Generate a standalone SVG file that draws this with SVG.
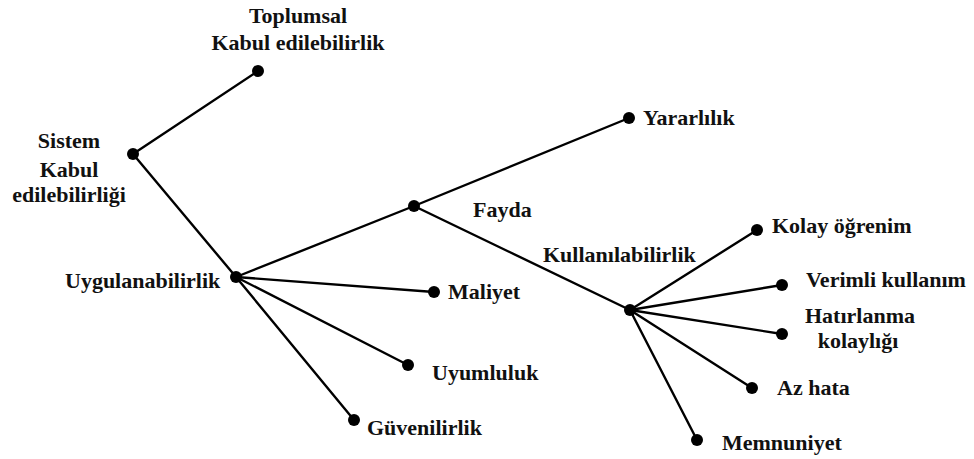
<svg xmlns="http://www.w3.org/2000/svg" width="974" height="459" viewBox="0 0 974 459">
  <style>
    .edge { stroke: #000; stroke-width: 2.4; stroke-linecap: round; fill: none; }
    .dot { fill: #000; }
    .lbl { fill: #111; }
    .mid { text-anchor: middle; }
  </style>
  <rect width="974" height="459" fill="#fff"/>

  <g id="connectors">
    <line class="edge" x1="133" y1="154" x2="258" y2="71"/>
    <line class="edge" x1="133" y1="154" x2="236" y2="277"/>
    <line class="edge" x1="236" y1="277" x2="414" y2="206"/>
    <line class="edge" x1="236" y1="277" x2="434" y2="292"/>
    <line class="edge" x1="236" y1="277" x2="408" y2="365"/>
    <line class="edge" x1="236" y1="277" x2="354" y2="420"/>
    <line class="edge" x1="414" y1="206" x2="629" y2="118"/>
    <line class="edge" x1="414" y1="206" x2="630" y2="310"/>
    <line class="edge" x1="630" y1="310" x2="757" y2="230"/>
    <line class="edge" x1="630" y1="310" x2="782" y2="285"/>
    <line class="edge" x1="630" y1="310" x2="782" y2="334"/>
    <line class="edge" x1="630" y1="310" x2="752" y2="388"/>
    <line class="edge" x1="630" y1="310" x2="697" y2="440"/>
  </g>

  <g id="nodes" font-family="Liberation Serif" font-weight="bold" font-size="22">
    <g id="sistem">
      <circle class="dot" cx="133" cy="154" r="6"/>
      <text class="lbl mid" x="69" y="148">Sistem</text>
      <text class="lbl mid" x="69" y="177">Kabul</text>
      <text class="lbl mid" x="69" y="202">edilebilirliği</text>
    </g>
    <g id="toplumsal">
      <circle class="dot" cx="258" cy="71" r="6"/>
      <text class="lbl mid" x="298" y="23">Toplumsal</text>
      <text class="lbl mid" x="298" y="50">Kabul edilebilirlik</text>
    </g>
    <g id="uygulanabilirlik">
      <circle class="dot" cx="236" cy="277" r="6"/>
      <text class="lbl" x="65" y="288">Uygulanabilirlik</text>
    </g>
    <g id="fayda">
      <circle class="dot" cx="414" cy="206" r="6"/>
      <text class="lbl" x="473" y="217">Fayda</text>
    </g>
    <g id="yararlilik">
      <circle class="dot" cx="629" cy="118" r="6"/>
      <text class="lbl" x="643" y="125">Yararlılık</text>
    </g>
    <g id="maliyet">
      <circle class="dot" cx="434" cy="292" r="6"/>
      <text class="lbl" x="448" y="299">Maliyet</text>
    </g>
    <g id="uyumluluk">
      <circle class="dot" cx="408" cy="365" r="6"/>
      <text class="lbl" x="432" y="380">Uyumluluk</text>
    </g>
    <g id="guvenilirlik">
      <circle class="dot" cx="354" cy="420" r="6"/>
      <text class="lbl" x="367" y="435">Güvenilirlik</text>
    </g>
    <g id="kullanilabilirlik">
      <circle class="dot" cx="630" cy="310" r="6"/>
      <text class="lbl" x="543" y="262">Kullanılabilirlik</text>
    </g>
    <g id="kolay-ogrenim">
      <circle class="dot" cx="757" cy="230" r="6"/>
      <text class="lbl" x="772" y="233">Kolay öğrenim</text>
    </g>
    <g id="verimli-kullanim">
      <circle class="dot" cx="782" cy="285" r="6"/>
      <text class="lbl" x="806" y="287">Verimli kullanım</text>
    </g>
    <g id="hatirlanma">
      <circle class="dot" cx="782" cy="334" r="6"/>
      <text class="lbl mid" x="860" y="323">Hatırlanma</text>
      <text class="lbl mid" x="858" y="348">kolaylığı</text>
    </g>
    <g id="az-hata">
      <circle class="dot" cx="752" cy="388" r="6"/>
      <text class="lbl" x="777" y="395">Az hata</text>
    </g>
    <g id="memnuniyet">
      <circle class="dot" cx="697" cy="440" r="6"/>
      <text class="lbl" x="722" y="450">Memnuniyet</text>
    </g>
  </g>
</svg>
